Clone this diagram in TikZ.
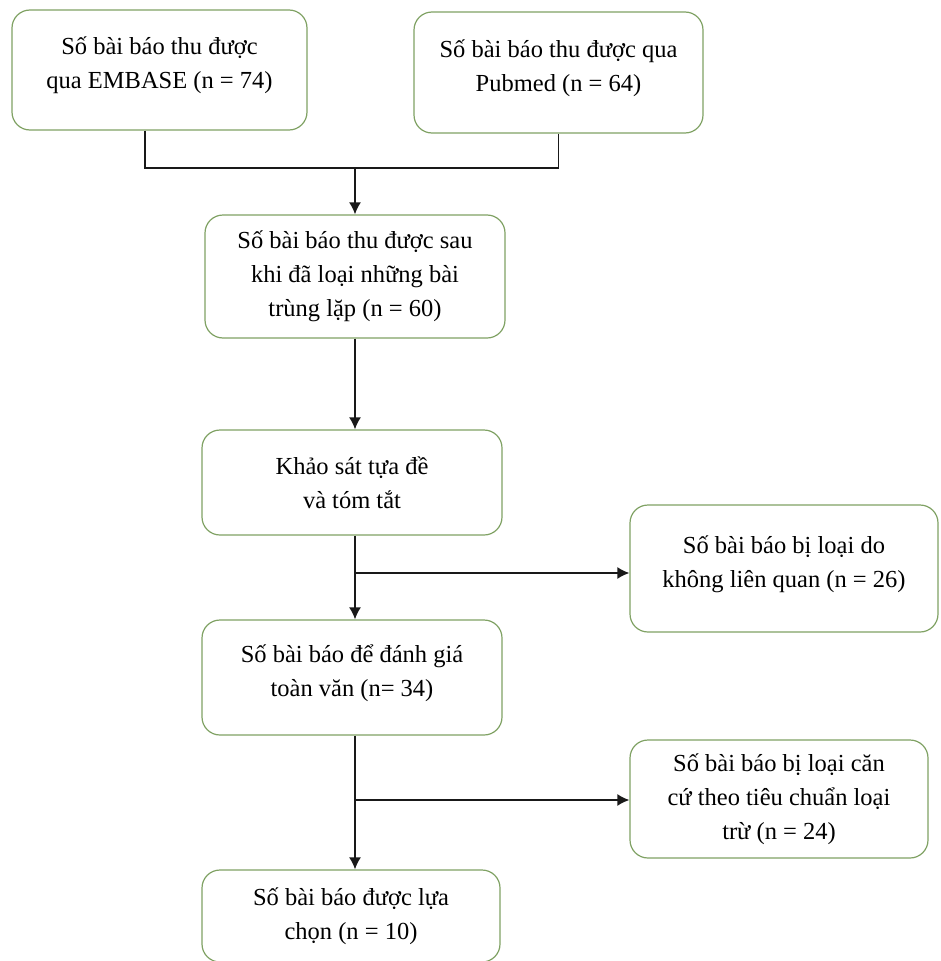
\documentclass[tikz,border=0pt]{standalone}
\usepackage{fontspec}
\setmainfont{Liberation Serif}
\usetikzlibrary{arrows.meta,positioning}
\definecolor{boxgreen}{RGB}{128,162,100}
\tikzset{%
	box/.style   = {draw=boxgreen, line width=1.2pt, rectangle, rounded corners=18pt, inner sep=0pt, align=center, font=\fontsize{24.5}{34}\selectfont},
	line/.style  = {line width=1.7pt, draw=black!90},
	arrow/.style = {line, -{Latex[length=12pt,width=12pt]}},
}
\newcommand{\lift}{\\[-20pt]}

\begin{document}
\begin{tikzpicture}[x=1pt,y=-1pt]
	\clip (0,0) rectangle (940,961);
	\fill[white] (0,0) rectangle (940,961);
	
	\node[box, minimum width=295pt, minimum height=120pt] (embase) at (159.5,70) {Số bài báo thu được\\qua EMBASE (n = 74)\lift};
	\node[box, minimum width=289pt, minimum height=121pt] (pubmed) at (558.5,72.5) {Số bài báo thu được qua\\Pubmed (n = 64)\lift};
	\node[box, minimum width=300pt, minimum height=123pt] (dedup) at (355,276.5) {Số bài báo thu được sau\\khi đã loại những bài\\trùng lặp (n = 60)};
	\node[box, minimum width=300pt, minimum height=105pt] (screen) at (352,482.5) {Khảo sát tựa đề\\và tóm tắt};
	\node[box, minimum width=308pt, minimum height=127pt] (irrel) at (784,568.5) {Số bài báo bị loại do\\không liên quan (n = 26)\lift};
	\node[box, minimum width=300pt, minimum height=115pt] (fulltext) at (352,677.5) {Số bài báo để đánh giá\\toàn văn (n= 34)\lift};
	\node[box, minimum width=298pt, minimum height=118pt] (exclude) at (779,799) {Số bài báo bị loại căn\\cứ theo tiêu chuẩn loại\\trừ (n = 24)};
	\node[box, minimum width=298pt, minimum height=92pt] (chosen) at (351,916) {Số bài báo được lựa\\chọn (n = 10)};
	
	\coordinate (join) at (355,168);
	\coordinate (split1) at (355,573);
	\coordinate (split2) at (355,800);
	
	\draw[line] ([xshift=-14.5pt]embase.south) |- (join);
	\draw[line] (pubmed.south) |- (join);
	\draw[arrow] (join) -- (dedup.north);
	\draw[arrow] (dedup.south) -- (dedup.south |- screen.north);
	\draw[arrow] (screen.south -| split1) -- (split1 |- fulltext.north);
	\draw[arrow] (split1) -- (split1 -| irrel.west);
	\draw[arrow] (fulltext.south -| split2) -- (split2 |- chosen.north);
	\draw[arrow] (split2) -- (split2 -| exclude.west);
\end{tikzpicture}
\end{document}
